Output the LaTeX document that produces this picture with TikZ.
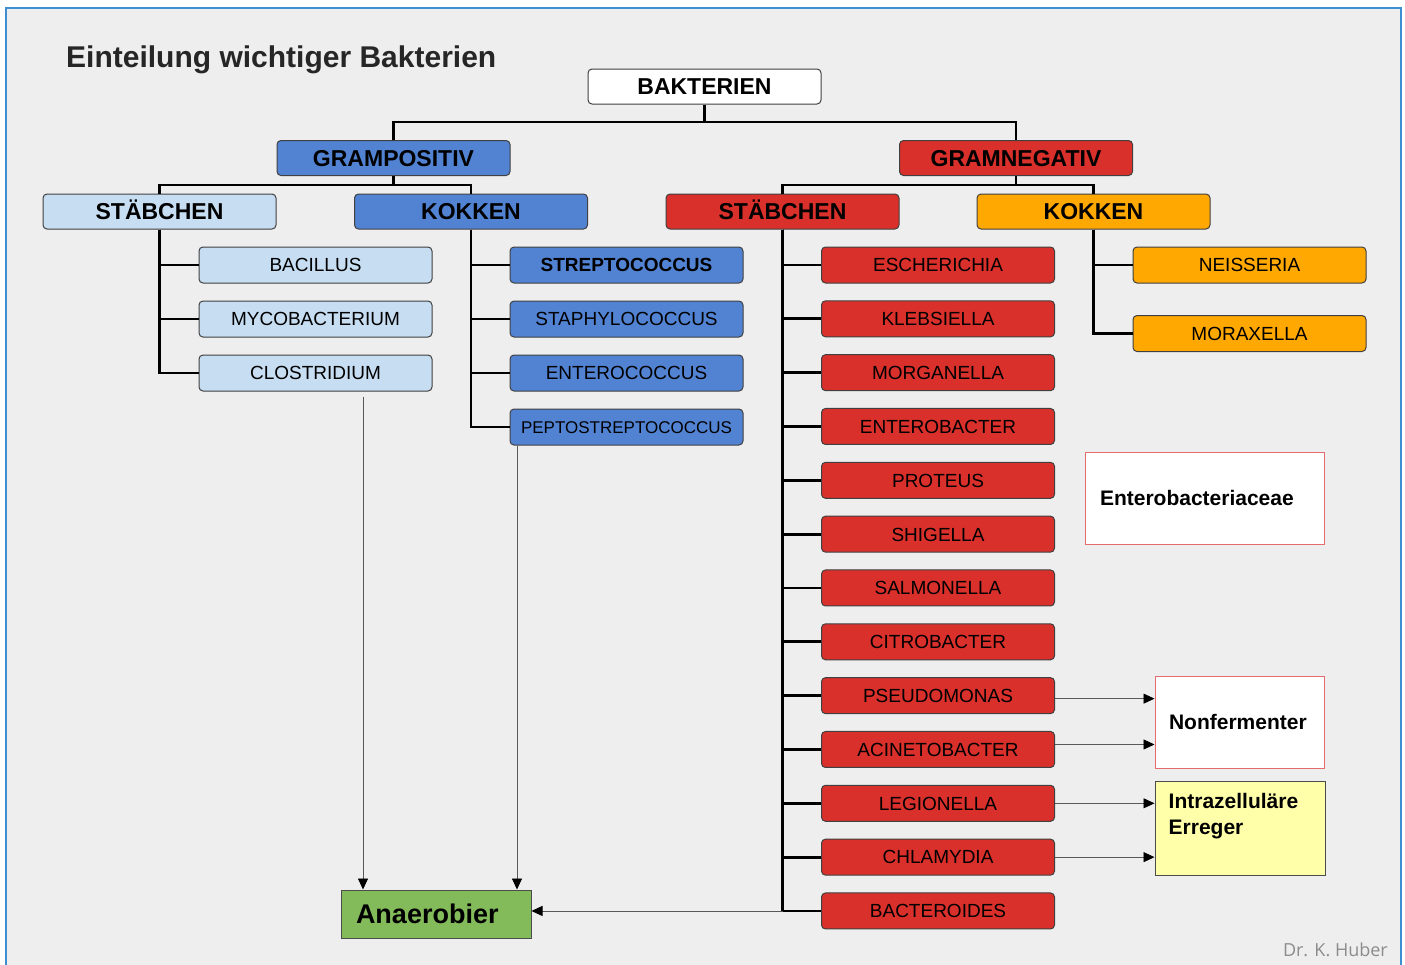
\documentclass[tikz,border=0pt]{standalone}
\usepackage{fontspec}
\setmainfont{Liberation Sans}
\newfontfamily\signfont{Open Sans}
\usetikzlibrary{arrows.meta, positioning, calc}

\definecolor{bggray}{HTML}{EEEEEE}
\definecolor{frameblue}{HTML}{3D8FD1}
\definecolor{lightblue}{HTML}{C7DDF2}
\definecolor{midblue}{HTML}{5283D3}
\definecolor{bacred}{HTML}{D9302B}
\definecolor{bacorange}{HTML}{FFA801}
\definecolor{bacgreen}{HTML}{83BB5B}
\definecolor{bacyellow}{HTML}{FFFFAA}
\definecolor{pinkline}{HTML}{E36C6C}

\begin{document}
\begin{tikzpicture}[
    x=1pt, y=-1pt,
    box/.style={draw=black!75, line width=1pt, rounded corners=4pt,
                minimum width=233pt, minimum height=35pt, inner sep=0pt},
    head/.style={box, text height=16.5pt, text depth=0pt,
                 font=\fontsize{23}{27}\selectfont\bfseries},
    leaf/.style={box, minimum height=36pt, text height=13.7pt, text depth=0pt,
                 font=\fontsize{19}{22}\selectfont},
    groupbox/.style={draw=pinkline, line width=1pt, fill=white,
                     minimum height=92pt, inner ysep=0pt, align=left,
                     font=\fontsize{21}{26}\selectfont\bfseries},
    tree/.style={line width=2.8pt, black},
    arr/.style={-{Triangle[length=11pt, width=10pt, color=black]},
                line width=0.8pt, black!65}
  ]
  \useasboundingbox (0,0) rectangle (1405,964);
  \fill[white] (0,0) rectangle (1405,964);
  \filldraw[fill=bggray, draw=frameblue, line width=1.5pt] (6,8) rectangle (1401,975);

  % Title
  \node[font=\fontsize{30}{35}\selectfont\bfseries, text=black!85,
        anchor=base west, inner sep=0pt] (title) at (66,67)
        {Einteilung wichtiger Bakterien};

  % Root and Gram stain
  \node[head, fill=white] (bak) at (704.5, 86.5) {BAKTERIEN};
  \node[head, fill=midblue] (gpos) at (393.5, 158) {GRAMPOSITIV};
  \node[head, fill=bacred] (gneg) at (1016, 158) {GRAMNEGATIV};

  % Shape
  \node[head, fill=lightblue] (stp) at (159.5, 211.5) {STÄBCHEN};
  \node[head, fill=midblue] (kop) at (471, 211.5) {KOKKEN};
  \node[head, fill=bacred] (stn) at (782.5, 211.5) {STÄBCHEN};
  \node[head, fill=bacorange] (kon) at (1093.5, 211.5) {KOKKEN};

  \coordinate (j0) at (704.5, 122);
  \coordinate (j1) at (393.5, 185);
  \coordinate (j2) at (1016, 185);
  \draw[tree] (bak.south) -- (j0);
  \draw[tree] (gpos.north) |- (j0) -| (gneg.north);
  \draw[tree] (gpos.south) -- (j1);
  \draw[tree] (stp.north) |- (j1) -| (kop.north);
  \draw[tree] (gneg.south) -- (j2);
  \draw[tree] (stn.north) |- (j2) -| (kon.north);

  % Grampositive rods
  \foreach \name [count=\i] in {BACILLUS, MYCOBACTERIUM, CLOSTRIDIUM} {
    \node[leaf, fill=lightblue] (p\i) at (315.5, 265+54*\i-54) {\name};
    \draw[tree] (stp.south) |- (p\i.west);
  }

  % Grampositive cocci
  \node[leaf, fill=midblue, font=\fontsize{19}{22}\selectfont\bfseries]
       (k1) at (626.5, 265) {STREPTOCOCCUS};
  \node[leaf, fill=midblue] (k2) at (626.5, 319) {STAPHYLOCOCCUS};
  \node[leaf, fill=midblue] (k3) at (626.5, 373) {ENTEROCOCCUS};
  \node[leaf, fill=midblue, text height=12.3pt, font=\fontsize{17}{20}\selectfont]
       (k4) at (626.5, 427) {PEPTOSTREPTOCOCCUS};
  \foreach \i in {1,...,4}
    \draw[tree] (kop.south) |- (k\i.west);

  % Gramnegative rods
  \foreach \name [count=\i] in {ESCHERICHIA, KLEBSIELLA, MORGANELLA,
      ENTEROBACTER, PROTEUS, SHIGELLA, SALMONELLA, CITROBACTER,
      PSEUDOMONAS, ACINETOBACTER, LEGIONELLA, CHLAMYDIA, BACTEROIDES} {
    \node[leaf, fill=bacred] (r\i) at (938, 265+53.83*\i-53.83) {\name};
    \draw[tree] (stn.south) |- (r\i.west);
  }

  % Gramnegative cocci
  \node[leaf, fill=bacorange] (n1) at (1249.5, 265) {NEISSERIA};
  \node[leaf, fill=bacorange] (n2) at (1249.5, 333.5) {MORAXELLA};
  \foreach \i in {1,2}
    \draw[tree] (kon.south) |- (n\i.west);

  % Groups
  \node[groupbox, text width=209pt, inner xsep=15pt] (entero) at (1204.5, 498)
       {Enterobacteriaceae};
  \node[groupbox, text width=141pt, inner xsep=14pt] (nonf) at (1239.5, 722)
       {Nonfermenter};
  \node[draw=black!70, line width=1pt, fill=bacyellow, minimum width=170pt,
        minimum height=94pt] (intra) at (1240, 828) {};
  \node[anchor=north west, align=left, inner sep=0pt,
        font=\fontsize{21}{26}\selectfont\bfseries] (intratext)
        at ([xshift=14pt, yshift=-13pt]intra.north west)
        {Intrazelluläre\\Erreger};
  \node[draw=black!70, line width=1pt, fill=bacgreen, minimum height=48pt,
        text width=160pt, inner xsep=15pt, inner ysep=0pt, align=left,
        font=\fontsize{27}{32}\selectfont\bfseries] (anae) at (436, 914)
        {Anaerobier};

  \draw[arr] ([yshift=-3pt]r9.east) -- ([yshift=-3pt]r9.east -| nonf.west);
  \draw[arr] ([yshift=5pt]r10.east) -- ([yshift=5pt]r10.east -| nonf.west);
  \draw[arr] (r11.east) -- (r11.east -| intra.west);
  \draw[arr] (r12.east) -- (r12.east -| intra.west);

  \draw[arr] ([xshift=47.5pt, yshift=-5pt]p3.south)
             -- ([xshift=47.5pt]p3.south |- anae.north);
  \draw[arr] ([xshift=-109.5pt]k4.south) -- ([xshift=-109.5pt]k4.south |- anae.north);
  \draw[arr] (stn.south |- r13.west) -- (r13.west -| anae.east);

  \node[font=\signfont\fontsize{18}{22}\selectfont, text=black!45,
        anchor=base east, inner sep=0pt] (sign) at (1388, 956) {Dr. K. Huber};
\end{tikzpicture}
\end{document}
